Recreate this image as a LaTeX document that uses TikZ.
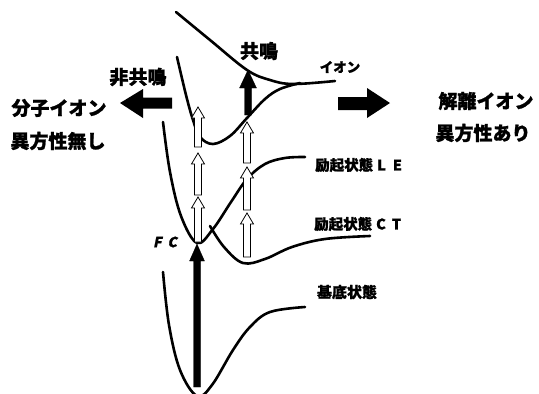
\documentclass[tikz,border=0pt]{standalone}
\usepackage{fontspec}
\newfontfamily\cjk{Noto Sans CJK JP}[BoldFeatures={FakeBold=1.2}]
\newfontfamily\cjkslant{Noto Sans CJK JP}[FakeSlant=0.2, BoldFeatures={FakeBold=1.2}]
\newcommand{\blockup}[7]{%
  \draw[#1] (#2-#5,#4) -- (#2-#5,#3+#7) -- (#2-#6,#3+#7) -- (#2,#3) -- (#2+#6,#3+#7) -- (#2+#5,#3+#7) -- (#2+#5,#4) -- cycle;}
\begin{document}
\begin{tikzpicture}[x=1pt,y=-1pt,
  curve/.style={line width=2.6pt, line cap=round, smooth, tension=0.6},
  hollow/.style={draw=black, fill=white, line width=0.8pt, line join=miter},
  solidarr/.style={fill=black, draw=black, line width=0.3pt},
  big/.style={font=\cjk\bfseries\fontsize{19}{19}\selectfont, inner sep=0pt},
  mid/.style={font=\cjk\bfseries\fontsize{14.5}{14.5}\selectfont, inner sep=0pt, anchor=west}]
\useasboundingbox (0,0) rectangle (539,394);
\clip (0,0) rectangle (539,394);
% curves
\draw[curve] plot coordinates {(176,12) (210,40) (247,70) (270,80) (293,84) (335,81)};
\draw[curve] plot coordinates {(177,57) (186,95) (193,120) (200,137) (213,144) (230,136) (247,118) (265,99) (280,89) (300,83)};
\draw[curve] plot coordinates {(163,122) (170,172) (181,216) (197,243) (213,229) (231,202) (247,179) (265,164) (285,158) (305,157)};
\draw[curve] plot coordinates {(210,226) (224,247) (243,263) (265,259) (292,247) (325,239) (370,236)};
\draw[curve] plot coordinates {(163,272) (169,325) (180,370) (197,396) (212,385) (233,350) (250,327) (270,312) (305,307)};
% hollow arrows
\blockup{hollow}{198}{107}{147}{3.5}{6.5}{11}
\blockup{hollow}{198}{153}{195}{3.5}{6.5}{11}
\blockup{hollow}{198}{197}{242}{3.5}{6.5}{11}
\blockup{hollow}{247}{122}{163}{3.5}{6.5}{11}
\blockup{hollow}{247}{167}{210}{3.5}{6.5}{11}
\blockup{hollow}{247}{213}{257}{3.5}{6.5}{11}
% solid arrows
\blockup{solidarr}{197}{244}{387}{3.5}{7.5}{17}
\blockup{solidarr}{248}{70}{115}{3.5}{8.5}{18}
\fill (172,97.5) -- (143,97.5) -- (143,89) -- (120,103) -- (143,118) -- (143,108.5) -- (172,108.5) -- cycle;
\fill (338,97) -- (367,97) -- (367,88) -- (390,103) -- (367,118) -- (367,110) -- (338,110) -- cycle;
% labels
\node[big] (nr) at (138,77) {非共鳴};
\node[big] (r) at (259,51) {共鳴};
\node[font=\cjk\bfseries\fontsize{13.5}{13.5}\selectfont, inner sep=0pt] (ion) at (340,67) {イオン};
\node[big] (mi) at (59,108) {分子イオン};
\node[big] (an) at (58,141) {異方性無し};
\node[big] (di) at (486,101) {解離イオン};
\node[big] (aa) at (483,133) {異方性あり};
\node[mid] (le) at (315,165) {励起状態\hspace{4pt}L\hspace{7pt}E};
\node[mid] (ct) at (314,224) {励起状態\hspace{4pt}C\hspace{6pt}T};
\node[font=\cjk\bfseries\fontsize{15}{15}\selectfont, inner sep=0pt] (gs) at (347,292) {基底状態};
\node[font=\cjkslant\bfseries\fontsize{14}{14}\selectfont, inner sep=0pt] (fc) at (165,242) {F\hspace{6pt}C};
\end{tikzpicture}
\end{document}
